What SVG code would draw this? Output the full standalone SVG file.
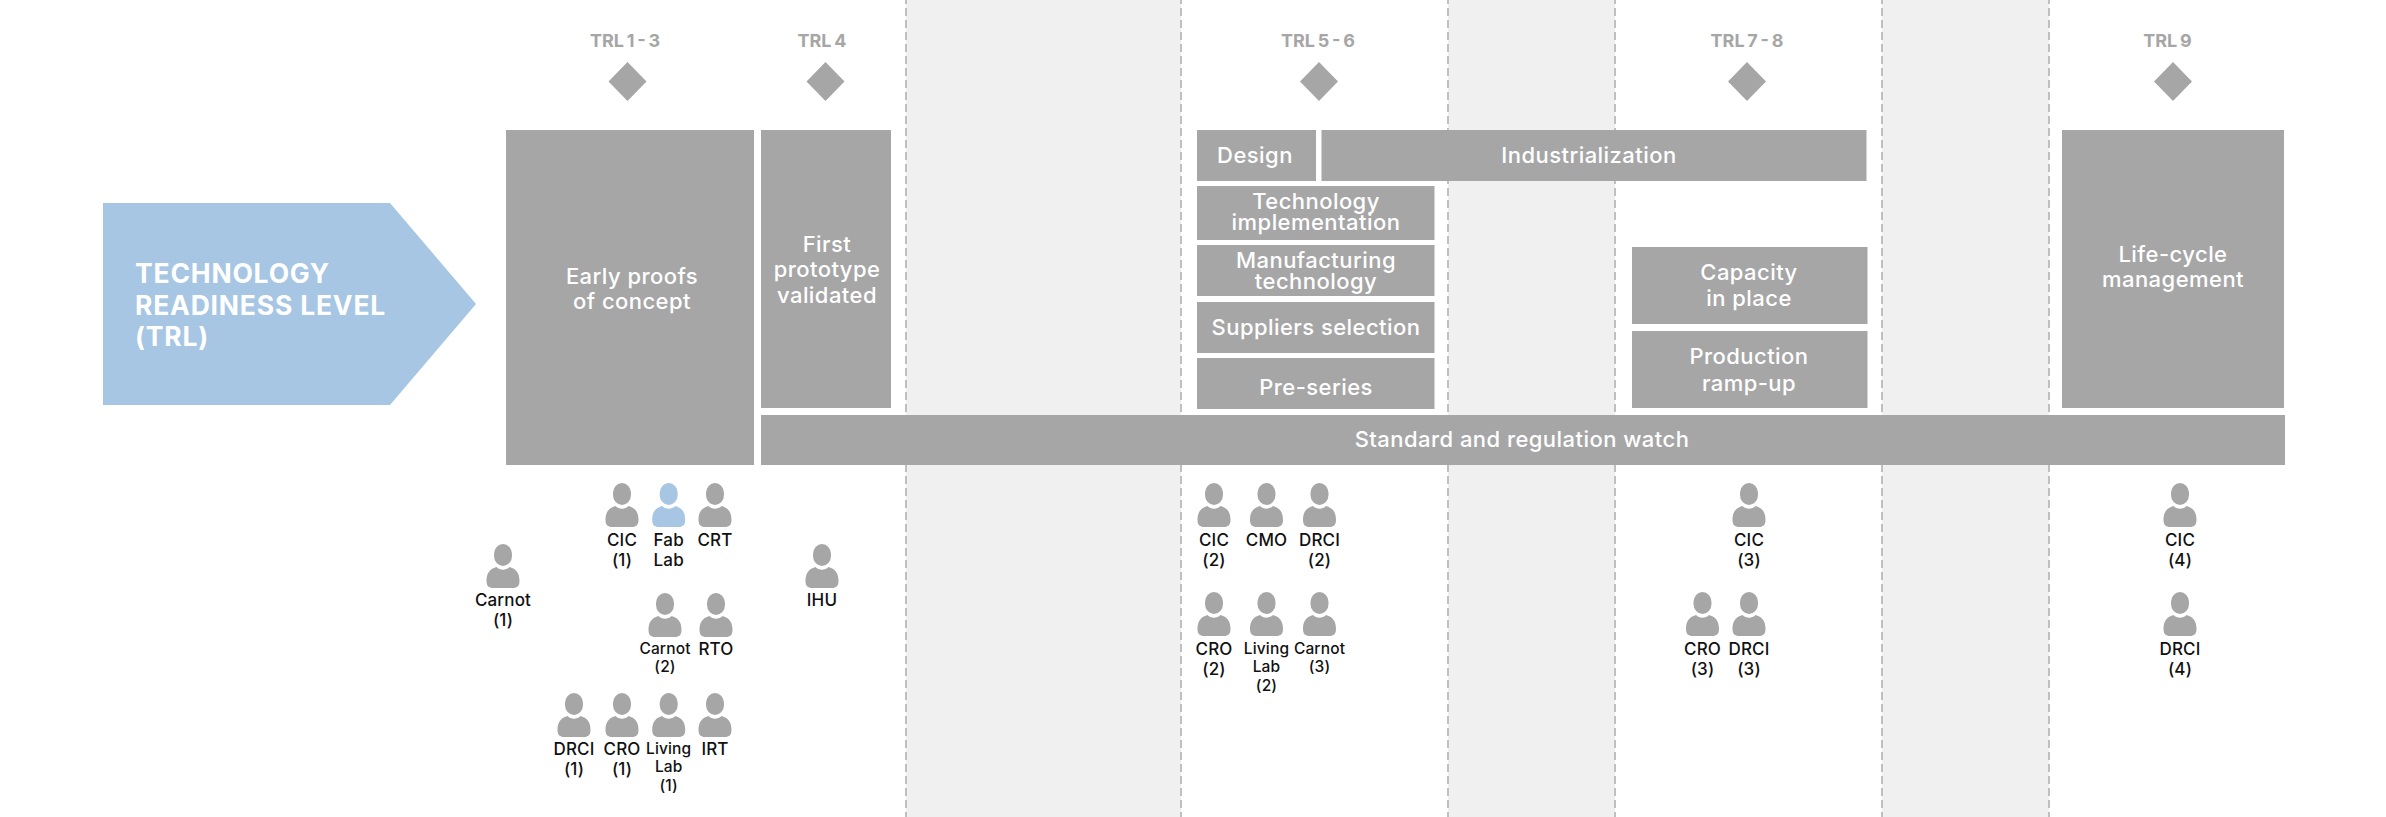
<svg xmlns="http://www.w3.org/2000/svg" width="2386" height="817" viewBox="0 0 2386 817">
<style>
text{font-family:"Inter","Noto Sans","Liberation Sans",sans-serif}
.band{fill:#f0f0f0}
.dash{stroke:#bfbfbf;stroke-width:2;stroke-dasharray:8 4;stroke-dashoffset:4;fill:none}
.box{fill:#a6a6a6}
.bt{fill:#fff;font-size:22px;letter-spacing:.45px;text-anchor:middle;font-weight:500}
.trl{fill:#a6a6a6;font-size:18px;word-spacing:-1.5px;font-weight:700;text-anchor:middle}
.title{fill:#fff;font-size:26.5px;letter-spacing:.8px;font-weight:700}
.lb{fill:#111;font-size:17px;letter-spacing:.15px;font-weight:500;text-anchor:middle}
.ls{fill:#111;font-size:15.5px;letter-spacing:.15px;font-weight:500;text-anchor:middle}
.p{fill:#a6a6a6}
.pb{fill:#a6c6e4}
</style>
<defs>
<g id="person"><rect x="-9" y="0" width="18" height="22" rx="9" ry="10"/><path d="M-16.500 37C-16.500 30-14 25-6.500 23C-3 26.500 3 26.500 6.500 23C14 25 16.500 30 16.500 37C16.500 42 14 44 10 44L-10 44C-14 44-16.500 42-16.500 37Z"/></g>
</defs>
<g id="background">
<rect class="band" x="906" y="0" width="275" height="817"/>
<rect class="band" x="1448" y="0" width="167" height="817"/>
<rect class="band" x="1882" y="0" width="167" height="817"/>
<path class="dash" d="M906 0V817M1181 0V817M1448 0V817M1615 0V817M1882 0V817M2049 0V817"/>
</g>
<g id="connectors"></g>
<g id="trl-arrow"><polygon points="103,203 390,203 476,304 390,405 103,405" fill="#a6c6e4"/>
<text class="title" x="135" y="283">TECHNOLOGY</text><text class="title" x="135" y="315">READINESS LEVEL</text><text class="title" x="135" y="346">(TRL)</text></g>
<g id="trl-1-3"><text class="trl" x="625" y="47">TRL 1 - 3</text><polygon class="box" points="627.500,62 646.500,81.500 627.500,101 608.500,81.500"/></g>
<g id="trl-4"><text class="trl" x="822" y="47">TRL 4</text><polygon class="box" points="825.500,62 844.500,81.500 825.500,101 806.500,81.500"/></g>
<g id="trl-5-6"><text class="trl" x="1318" y="47">TRL 5 - 6</text><polygon class="box" points="1319,62 1338,81.500 1319,101 1300,81.500"/></g>
<g id="trl-7-8"><text class="trl" x="1747" y="47">TRL 7 - 8</text><polygon class="box" points="1747,62 1766,81.500 1747,101 1728,81.500"/></g>
<g id="trl-9"><text class="trl" x="2167.500" y="47">TRL 9</text><polygon class="box" points="2173,62 2192,81.500 2173,101 2154,81.500"/></g>
<g id="early"><rect class="box" x="506" y="130" width="248" height="335"/><text class="bt" x="632" y="284">Early proofs</text><text class="bt" x="632" y="309">of concept</text></g>
<g id="first"><rect class="box" x="761" y="130" width="130" height="278"/><text class="bt" x="827" y="252">First</text><text class="bt" x="827" y="277">prototype</text><text class="bt" x="827" y="303">validated</text></g>
<g id="standard"><rect class="box" x="761" y="415" width="1524" height="50"/><text class="bt" x="1522" y="447">Standard and regulation watch</text></g>
<g id="design"><rect class="box" x="1197" y="130" width="119" height="51"/><text class="bt" x="1255" y="163">Design</text></g>
<g id="industrialization"><rect class="box" x="1321.500" y="130" width="545" height="51"/><text class="bt" x="1589" y="163">Industrialization</text></g>
<g id="technology"><rect class="box" x="1197" y="186" width="237.500" height="54"/><text class="bt" x="1316" y="209">Technology</text><text class="bt" x="1316" y="230">implementation</text></g>
<g id="manufacturing"><rect class="box" x="1197" y="245" width="237.500" height="51"/><text class="bt" x="1316" y="268">Manufacturing</text><text class="bt" x="1316" y="289">technology</text></g>
<g id="suppliers"><rect class="box" x="1197" y="302" width="237.500" height="51"/><text class="bt" x="1316" y="335">Suppliers selection</text></g>
<g id="preseries"><rect class="box" x="1197" y="358" width="237.500" height="51"/><text class="bt" x="1316" y="395">Pre-series</text></g>
<g id="capacity"><rect class="box" x="1632" y="247" width="235.500" height="77"/><text class="bt" x="1749" y="280">Capacity</text><text class="bt" x="1749" y="306">in place</text></g>
<g id="production"><rect class="box" x="1632" y="331" width="235.500" height="77"/><text class="bt" x="1749" y="364">Production</text><text class="bt" x="1749" y="391">ramp-up</text></g>
<g id="lifecycle"><rect class="box" x="2062" y="130" width="222" height="278"/><text class="bt" x="2173" y="262">Life-cycle</text><text class="bt" x="2173" y="287">management</text></g>
<g id="p-cic1"><use href="#person" class="p" x="622" y="483"/><text class="lb" x="622" y="546">CIC</text><text class="lb" x="622" y="566">(1)</text></g>
<g id="p-fablab"><use href="#person" class="pb" x="668.700" y="483"/><text class="lb" x="668.700" y="546">Fab</text><text class="lb" x="668.700" y="566">Lab</text></g>
<g id="p-crt"><use href="#person" class="p" x="715" y="483"/><text class="lb" x="715" y="546">CRT</text></g>
<g id="p-carnot1"><use href="#person" class="p" x="503" y="544"/><text class="lb" x="503" y="606">Carnot</text><text class="lb" x="503" y="626">(1)</text></g>
<g id="p-ihu"><use href="#person" class="p" x="822" y="544"/><text class="lb" x="822" y="606">IHU</text></g>
<g id="p-carnot2"><use href="#person" class="p" x="665" y="593"/><text class="ls" x="665" y="654">Carnot</text><text class="ls" x="665" y="672">(2)</text></g>
<g id="p-rto"><use href="#person" class="p" x="716" y="593"/><text class="lb" x="716" y="655">RTO</text></g>
<g id="p-drci1"><use href="#person" class="p" x="574" y="693"/><text class="lb" x="574" y="755">DRCI</text><text class="lb" x="574" y="775">(1)</text></g>
<g id="p-cro1"><use href="#person" class="p" x="622" y="693"/><text class="lb" x="622" y="755">CRO</text><text class="lb" x="622" y="775">(1)</text></g>
<g id="p-living1"><use href="#person" class="p" x="668.700" y="693"/><text class="ls" x="668.700" y="754">Living</text><text class="ls" x="668.700" y="772">Lab</text><text class="ls" x="668.700" y="791">(1)</text></g>
<g id="p-irt"><use href="#person" class="p" x="715" y="693"/><text class="lb" x="715" y="755">IRT</text></g>
<g id="p-cic2"><use href="#person" class="p" x="1214" y="483"/><text class="lb" x="1214" y="546">CIC</text><text class="lb" x="1214" y="566">(2)</text></g>
<g id="p-cmo"><use href="#person" class="p" x="1266.500" y="483"/><text class="lb" x="1266.500" y="546">CMO</text></g>
<g id="p-drci2"><use href="#person" class="p" x="1319.500" y="483"/><text class="lb" x="1319.500" y="546">DRCI</text><text class="lb" x="1319.500" y="566">(2)</text></g>
<g id="p-cro2"><use href="#person" class="p" x="1214" y="592"/><text class="lb" x="1214" y="655">CRO</text><text class="lb" x="1214" y="675">(2)</text></g>
<g id="p-living2"><use href="#person" class="p" x="1266.500" y="592"/><text class="ls" x="1266.500" y="654">Living</text><text class="ls" x="1266.500" y="672">Lab</text><text class="ls" x="1266.500" y="691">(2)</text></g>
<g id="p-carnot3"><use href="#person" class="p" x="1319.500" y="592"/><text class="ls" x="1319.500" y="654">Carnot</text><text class="ls" x="1319.500" y="672">(3)</text></g>
<g id="p-cic3"><use href="#person" class="p" x="1749" y="483"/><text class="lb" x="1749" y="546">CIC</text><text class="lb" x="1749" y="566">(3)</text></g>
<g id="p-cro3"><use href="#person" class="p" x="1702.500" y="592"/><text class="lb" x="1702.500" y="655">CRO</text><text class="lb" x="1702.500" y="675">(3)</text></g>
<g id="p-drci3"><use href="#person" class="p" x="1749" y="592"/><text class="lb" x="1749" y="655">DRCI</text><text class="lb" x="1749" y="675">(3)</text></g>
<g id="p-cic4"><use href="#person" class="p" x="2180" y="483"/><text class="lb" x="2180" y="546">CIC</text><text class="lb" x="2180" y="566">(4)</text></g>
<g id="p-drci4"><use href="#person" class="p" x="2180" y="592"/><text class="lb" x="2180" y="655">DRCI</text><text class="lb" x="2180" y="675">(4)</text></g>
</svg>
